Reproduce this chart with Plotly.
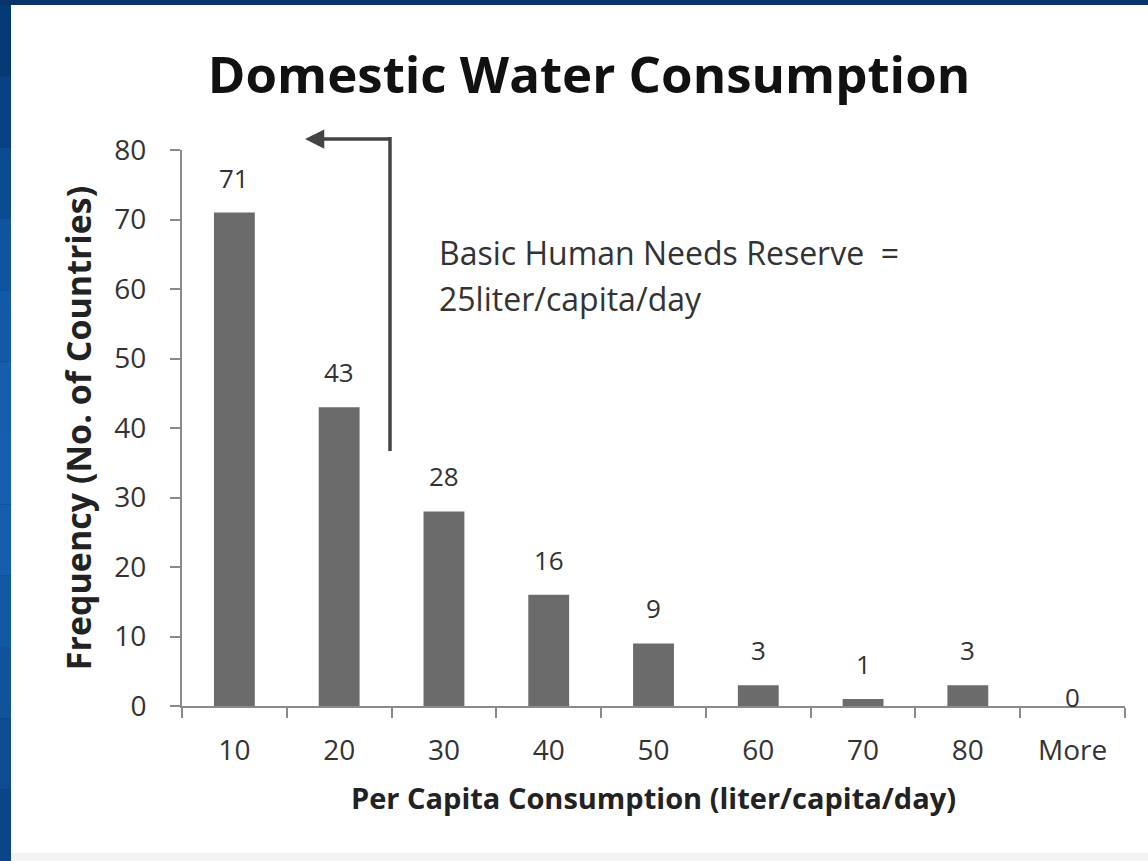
import plotly.graph_objects as go

categories = ["10", "20", "30", "40", "50", "60", "70", "80", "More"]
frequency = [71, 43, 28, 16, 9, 3, 1, 3, 0]
y_ticks = [0, 10, 20, 30, 40, 50, 60, 70, 80]

W, H = 1148, 861
ML, MR, MT, MB = 182, 23, 150, 155
PW, PH = W - ML - MR, H - MT - MB

def px(x):
    return (x - ML) / PW

def py(y):
    return (H - MB - y) / PH

FONT = "Open Sans"
fig = go.Figure()
fig.add_trace(go.Bar(
    x=categories, y=frequency,
    marker=dict(color="#6b6b6b", line=dict(width=0)),
    width=0.39, hoverinfo="skip",
))

annotations = []
for i, v in enumerate(frequency):
    annotations.append(dict(
        x=i, y=v, xref="x", yref="y", text=str(v), showarrow=False,
        yanchor="middle", yshift=35 if v > 0 else 9,
        font=dict(family=FONT, size=26, color="#333333"),
    ))

for txt, yy in [("Basic Human Needs Reserve  =", 252), ("25liter/capita/day", 298)]:
    annotations.append(dict(
        x=px(437), y=py(yy), xref="paper", yref="paper", xanchor="left", yanchor="middle",
        align="left", showarrow=False, text=txt,
        font=dict(family=FONT, size=32, color="#333333"),
    ))
# arrow head (horizontal segment)
annotations.append(dict(
    x=px(305), y=py(139), ax=86, ay=0,
    xref="paper", yref="paper", axref="pixel", ayref="pixel",
    text="", showarrow=True, arrowhead=2, arrowsize=1.1, arrowwidth=3.5,
    arrowcolor="#444444",
))

shapes = []
# blue frame
shapes.append(dict(type="rect", xref="paper", yref="paper", layer="below",
                   x0=px(0), x1=px(W), y0=py(H), y1=py(0),
                   fillcolor="#06346b", line=dict(width=0)))
blues = ["#063a75", "#084282", "#0b4b8f", "#0f549c", "#125aa6", "#145eab",
         "#1560ae", "#145daa", "#1259a3", "#10539a", "#0d4c90", "#0a4685"]
n = len(blues)
for i, col in enumerate(blues):
    y0 = 5 + (H - 5) * i / n
    y1 = 5 + (H - 5) * (i + 1) / n
    shapes.append(dict(type="rect", xref="paper", yref="paper", layer="below",
                       x0=px(0), x1=px(12), y0=py(y1), y1=py(y0),
                       fillcolor=col, line=dict(width=0)))
shapes.append(dict(type="rect", xref="paper", yref="paper", layer="below",
                   x0=px(11), x1=px(W + 2), y0=py(853), y1=py(5),
                   fillcolor="#ffffff", line=dict(width=0)))
shapes.append(dict(type="rect", xref="paper", yref="paper", layer="below",
                   x0=px(11), x1=px(W + 2), y0=py(H + 2), y1=py(853),
                   fillcolor="#f3f3f3", line=dict(width=0)))
# vertical arrow stem
shapes.append(dict(type="line", xref="paper", yref="paper",
                   x0=px(390), x1=px(390), y0=py(451), y1=py(137),
                   line=dict(color="#444444", width=3.5)))

fig.update_layout(
    width=W, height=H,
    margin=dict(l=ML, r=MR, t=MT, b=MB),
    paper_bgcolor="#06346b", plot_bgcolor="rgba(0,0,0,0)",
    showlegend=False,
    title=dict(text="<b>Domestic Water Consumption</b>", x=589 / W, xanchor="center",
               y=1 - 75 / H, yanchor="middle",
               font=dict(family=FONT, size=51, color="#111111")),
    xaxis=dict(
        type="category", range=[-0.5, len(categories) - 0.5],
        showgrid=False, zeroline=False,
        showline=True, linecolor="#8a8a8a", linewidth=2,
        ticks="outside", tickson="boundaries", ticklen=10, tickwidth=2, tickcolor="#8a8a8a",
        tickfont=dict(family=FONT, size=28, color="#333333"),
        tickangle=0, ticklabelstandoff=18,
        title=dict(text="<b>Per Capita Consumption (liter/capita/day)</b>",
                   font=dict(family=FONT, size=29, color="#222222"), standoff=22),
    ),
    yaxis=dict(
        range=[0, 80], tickvals=y_ticks, showgrid=False, zeroline=False,
        showline=True, linecolor="#8a8a8a", linewidth=2,
        ticks="outside", ticklen=10, tickwidth=2, tickcolor="#8a8a8a",
        tickfont=dict(family=FONT, size=28, color="#333333"),
        ticklabelstandoff=18,
        title=dict(text="<b>Frequency (No. of Countries)</b>",
                   font=dict(family=FONT, size=34, color="#222222"), standoff=12),
    ),
    annotations=annotations,
    shapes=shapes,
)

fig.write_html("out.html", config={"displayModeBar": False},
               post_script="document.body.style.margin='0';")
